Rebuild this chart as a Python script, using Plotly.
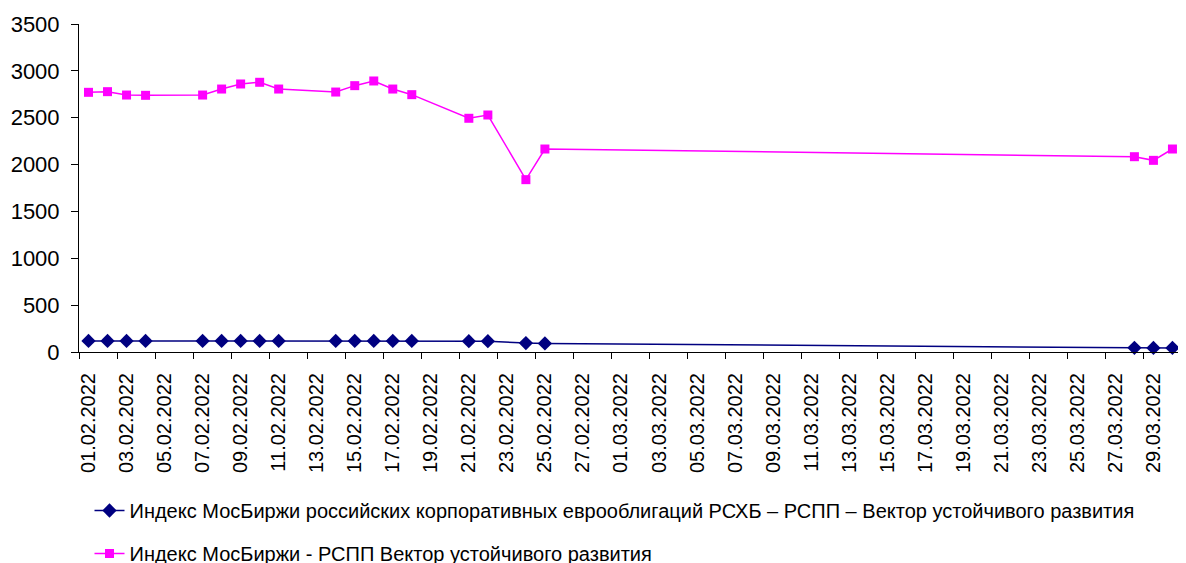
import plotly.graph_objects as go

dates = ["2022-02-01", "2022-02-02", "2022-02-03", "2022-02-04",
         "2022-02-07", "2022-02-08", "2022-02-09", "2022-02-10", "2022-02-11",
         "2022-02-14", "2022-02-15", "2022-02-16", "2022-02-17", "2022-02-18",
         "2022-02-21", "2022-02-22", "2022-02-24", "2022-02-25",
         "2022-03-28", "2022-03-29", "2022-03-30"]

eurobond = [118, 118, 118, 118,
            118, 118, 118, 118, 118,
            118, 118, 118, 118, 118,
            116, 115, 95, 92,
            45, 44, 44]

rspp = [2771, 2778, 2742, 2739,
        2742, 2806, 2860, 2878, 2806,
        2774, 2842, 2892, 2806, 2746,
        2494, 2529, 1839, 2166,
        2084, 2045, 2166]

name1 = "Индекс МосБиржи российских корпоративных еврооблигаций РСХБ – РСПП – Вектор устойчивого развития"
name2 = "Индекс МосБиржи - РСПП Вектор устойчивого развития"

yticks = [0, 500, 1000, 1500, 2000, 2500, 3000, 3500]

FONT = "Arial, Liberation Sans, sans-serif"

fig = go.Figure()
fig.add_trace(go.Scatter(
    x=dates, y=eurobond, name=name1, mode="lines+markers",
    line=dict(color="#000080", width=1.5),
    marker=dict(symbol="diamond", size=11, color="#000080"),
    cliponaxis=False, legend="legend"))
fig.add_trace(go.Scatter(
    x=dates, y=rspp, name=name2, mode="lines+markers",
    line=dict(color="#FF00FF", width=1.5),
    marker=dict(symbol="square", size=9, color="#FF00FF"),
    cliponaxis=False, legend="legend2"))

W, H = 1178, 563
fig.update_layout(
    width=W, height=H,
    margin=dict(l=71, r=8, t=16, b=219, autoexpand=False),
    paper_bgcolor="white", plot_bgcolor="white",
    font=dict(family=FONT, color="black"),
    legend=dict(xref="container", yref="container", x=81.5 / W, y=1 - 483 / H,
                xanchor="left", yanchor="top", font=dict(size=20, family=FONT),
                bgcolor="rgba(0,0,0,0)"),
    legend2=dict(xref="container", yref="container", x=81.5 / W, y=1 - 526 / H,
                 xanchor="left", yanchor="top", font=dict(size=20, family=FONT),
                 bgcolor="rgba(0,0,0,0)"),
    showlegend=True,
)

fig.update_xaxes(
    type="date",
    range=["2022-01-31 12:00", "2022-03-30 07:00"],
    tick0="2022-02-01", dtick=2 * 86400000,
    tickformat="%d.%m.%Y", tickangle=-90,
    ticks="", ticklabelstandoff=12,
    tickfont=dict(size=20, family=FONT, color="black"),
    showline=True, linecolor="black", linewidth=1,
    showgrid=False, zeroline=False,
    minor=dict(tick0="2022-01-31 12:00", dtick=2 * 86400000,
               ticks="outside", ticklen=6, tickcolor="black", showgrid=False),
)
fig.update_yaxes(
    range=[0, 3500], tickvals=yticks,
    ticks="outside", ticklen=7, tickcolor="black",
    ticklabelstandoff=7,
    tickfont=dict(size=22, family=FONT, color="black"),
    showline=True, linecolor="black", linewidth=1,
    showgrid=False, zeroline=False,
)

fig.write_html("out.html")
